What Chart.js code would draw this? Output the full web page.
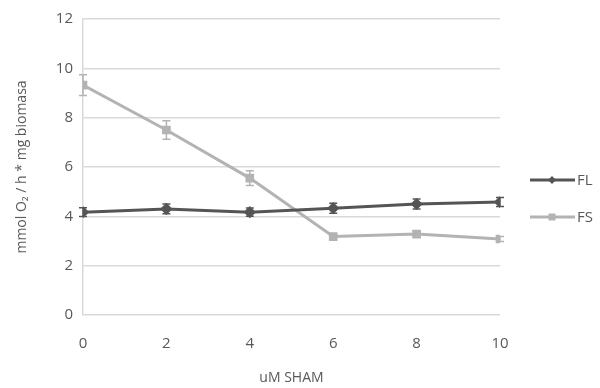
<!DOCTYPE html>
<html>
<head>
<meta charset="utf-8">
<script src="https://cdn.jsdelivr.net/npm/chart.js@4/dist/chart.umd.min.js"></script>
<style>
  html, body { margin: 0; padding: 0; background: #fff; }
  #wrap { width: 600px; height: 388px; }
</style>
</head>
<body>
<div id="wrap"><canvas id="chart"></canvas></div>
<script>
// uM SHAM concentrations
const shamDoses = [0, 2, 4, 6, 8, 10];
const flValues = [4.17, 4.3, 4.17, 4.33, 4.5, 4.58];
const flErrors = [0.18, 0.2, 0.17, 0.2, 0.2, 0.18];
const fsValues = [9.32, 7.5, 5.55, 3.18, 3.28, 3.08];
const fsErrors = [0.42, 0.37, 0.3, 0.1, 0.1, 0.1];
const yTicks = [0, 2, 4, 6, 8, 10, 12];

const toPoints = (vals) => shamDoses.map((x, i) => ({ x: x, y: vals[i] }));

const errorBars = {
  id: 'errorBars',
  afterDatasetsDraw(chart) {
    const { ctx, scales } = chart;
    chart.data.datasets.forEach((ds) => {
      ctx.save();
      ctx.strokeStyle = ds.borderColor;
      ctx.lineWidth = 1.5;
      ds.data.forEach((p, i) => {
        const x = scales.x.getPixelForValue(p.x);
        const top = scales.y.getPixelForValue(p.y + ds.errors[i]);
        const bot = scales.y.getPixelForValue(p.y - ds.errors[i]);
        ctx.beginPath();
        ctx.moveTo(x, top); ctx.lineTo(x, bot);
        ctx.moveTo(x - 4, top); ctx.lineTo(x + 4, top);
        ctx.moveTo(x - 4, bot); ctx.lineTo(x + 4, bot);
        ctx.stroke();
      });
      ctx.restore();
    });
  }
};

const sideLegend = {
  id: 'sideLegend',
  afterDraw(chart) {
    const { ctx } = chart;
    const rows = [180, 217];
    chart.data.datasets.forEach((ds, i) => {
      const y = rows[i];
      ctx.save();
      ctx.strokeStyle = ds.borderColor;
      ctx.lineWidth = 3;
      ctx.beginPath();
      ctx.moveTo(530, y); ctx.lineTo(575, y);
      ctx.stroke();
      ctx.fillStyle = ds.borderColor;
      ctx.beginPath();
      if (ds.pointStyle === 'rectRot') {
        ctx.moveTo(552, y - 4); ctx.lineTo(556, y); ctx.lineTo(552, y + 4); ctx.lineTo(548, y);
        ctx.closePath();
      } else {
        ctx.rect(548.5, y - 3.5, 7, 7);
      }
      ctx.fill();
      ctx.fillStyle = '#595959';
      ctx.font = '15px "Open Sans", sans-serif';
      ctx.textBaseline = 'middle';
      ctx.fillText(ds.label, 577, y + 1);
      ctx.restore();
    });
  }
};

new Chart(document.getElementById('chart').getContext('2d'), {
  type: 'line',
  data: {
    datasets: [
      {
        label: 'FL',
        data: toPoints(flValues),
        errors: flErrors,
        borderColor: '#555555',
        backgroundColor: '#555555',
        borderWidth: 3,
        pointStyle: 'rectRot',
        pointRadius: 4,
        pointHoverRadius: 4
      },
      {
        label: 'FS',
        data: toPoints(fsValues),
        errors: fsErrors,
        borderColor: '#b3b3b3',
        backgroundColor: '#b3b3b3',
        borderWidth: 3,
        pointStyle: 'rect',
        pointRadius: 4,
        pointHoverRadius: 4
      }
    ]
  },
  plugins: [errorBars, sideLegend],
  options: {
    responsive: true,
    maintainAspectRatio: false,
    animation: false,
    layout: { padding: { top: 10, right: 100, bottom: 0, left: 10 } },
    plugins: { legend: { display: false }, tooltip: { enabled: false } },
    scales: {
      x: {
        type: 'linear',
        min: 0,
        max: 10,
        ticks: { stepSize: 2, color: '#595959', font: { size: 15, family: '"Open Sans", sans-serif' }, padding: 20 },
        grid: { display: false, drawTicks: false },
        border: { display: false },
        title: { display: true, text: 'uM SHAM', color: '#595959', font: { size: 14, family: '"Open Sans", sans-serif' }, padding: { top: 8, bottom: 2 } },
        afterFit(scale) { scale.height = 73; }
      },
      y: {
        min: 0,
        max: 12,
        afterBuildTicks(scale) { scale.ticks = yTicks.map(v => ({ value: v })); },
        ticks: { color: '#595959', font: { size: 15, family: '"Open Sans", sans-serif' }, padding: 10 },
        grid: { color: '#d9d9d9', lineWidth: 1.5, drawTicks: false },
        border: { display: true, color: '#d9d9d9', width: 1.5 },
        title: { display: true, text: 'mmol O₂ / h * mg biomasa', color: '#595959', font: { size: 14, family: '"Open Sans", sans-serif' }, padding: { bottom: 4 } },
        afterFit(scale) { scale.width = 73; }
      }
    }
  }
});
</script>
</body>
</html>
